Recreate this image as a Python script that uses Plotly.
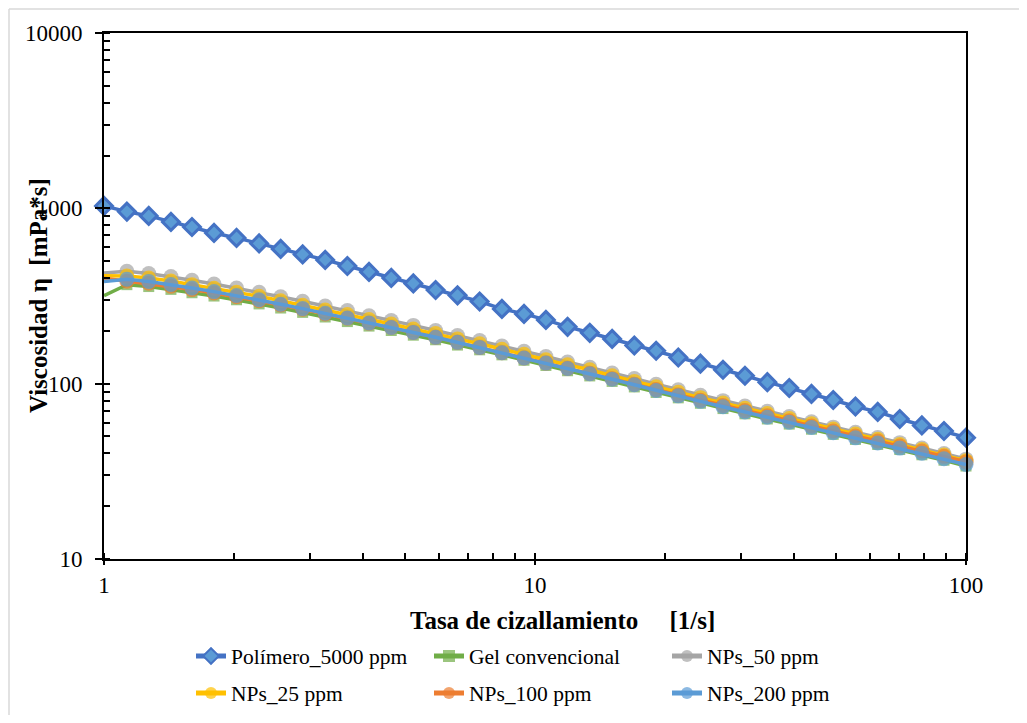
import plotly.graph_objects as go

# Shear rate [1/s]
shear_rate = [1, 1.13, 1.27, 1.43, 1.6, 1.8, 2.03, 2.29, 2.57, 2.89,
              3.26, 3.67, 4.12, 4.64, 5.22, 5.88, 6.61, 7.44, 8.38, 9.43,
              10.6, 11.9, 13.4, 15.1, 17.0, 19.1, 21.5, 24.2, 27.3, 30.7,
              34.6, 38.9, 43.8, 49.2, 55.4, 62.4, 70.2, 79.0, 88.9, 100]

polimero_5000 = [1032, 958, 905, 837, 783, 724, 678, 631, 587, 546,
                 508, 469, 434, 401, 373, 342, 319, 294, 267, 250,
                 231, 211, 195, 180, 165, 154, 141, 130, 120, 111,
                 102, 94.5, 87.4, 80.7, 74.1, 69.0, 62.9, 57.8, 53.7, 49.2]

gel_convencional = [318, 367, 358, 345, 330, 316, 301, 285, 270, 255,
                    240, 226, 213, 201, 189, 178, 166, 156, 146, 136,
                    127, 118.5, 110.7, 103, 95.8, 89.1, 83.0, 77.3, 72.1, 67.3,
                    62.9, 58.8, 55.0, 51.4, 48.1, 45.0, 42.1, 39.3, 36.6, 33.9]

nps_50 = [428, 437, 425, 408, 389, 370, 351, 332, 313, 295,
          277, 261, 244, 229, 215, 201, 188, 176, 164, 153,
          143, 133, 124, 115, 107, 99.3, 92.4, 85.9, 80.0, 74.6,
          69.6, 65.0, 60.6, 56.5, 52.8, 49.3, 46.1, 43.0, 40.0, 37.1]

nps_25 = [413, 411, 400, 385, 367, 350, 332, 315, 297, 280,
          263, 248, 232, 219, 205, 193, 180, 169, 157, 147,
          137, 128, 120, 111, 103, 96.0, 89.4, 83.2, 77.6, 72.4,
          67.6, 63.2, 59.0, 55.1, 51.6, 48.2, 45.0, 42.1, 39.2, 36.3]

nps_100 = [399, 384, 374, 360, 344, 329, 313, 297, 281, 266,
           250, 236, 221, 209, 196, 184, 172, 161, 150, 140,
           131, 122.3, 114.5, 106.8, 99.3, 92.5, 86.3, 80.5, 75.1, 70.2,
           65.6, 61.4, 57.4, 53.7, 50.3, 47.1, 44.1, 41.3, 38.5, 35.8]

nps_200 = [382, 394, 383, 368, 351, 335, 318, 301, 284, 268,
           252, 237, 222, 209, 196, 184, 172, 161, 150, 140,
           131, 122, 114, 106, 98.5, 91.5, 85.2, 79.3, 73.9, 69.0,
           64.4, 60.2, 56.2, 52.5, 49.1, 45.9, 42.9, 40.1, 37.3, 34.6]

y_tick_vals = [10, 100, 1000, 10000]
y_tick_text = ["10", "100", "1000", "10000"]
x_tick_vals = [1, 10, 100]
x_tick_text = ["1", "10", "100"]

FONT = "Liberation Serif"

# page offset of the plot div (default body margin)
OFF = 8
W, H = 1027 - 2 * OFF, 723 - 2 * OFF
# plot area in page pixels
L, R, T, B = 104, 966, 33, 559
PW, PH = R - L, B - T


def px_x(p):
    return (p - L) / PW


def px_y(p):
    return (B - p) / PH


def cx(p):
    return (p - OFF) / W


def cy(p):
    return 1 - (p - OFF) / H


fig = go.Figure()

n = len(shear_rate)
np_size = [0] + [15] * (n - 1)

series = [
    ("Polímero_5000 ppm", polimero_5000, "#4472C4", "#5B9BD5", "diamond", 13, "legend", 3),
    ("Gel convencional", gel_convencional, "#70AD47", "#70AD47", "square", [0] + [11] * (n - 1), "legend", 0),
    ("NPs_50 ppm", nps_50, "#A5A5A5", "#A5A5A5", "circle", np_size, "legend", 0),
    ("NPs_25 ppm", nps_25, "#FFC000", "#FFC000", "circle", np_size, "legend2", 0),
    ("NPs_100 ppm", nps_100, "#ED7D31", "#ED7D31", "circle", np_size, "legend2", 0),
    ("NPs_200 ppm", nps_200, "#5B9BD5", "#5B9BD5", "circle", np_size, "legend2", 0),
]

for name, ys, lc, fc, sym, size, leg, mlw in series:
    fig.add_trace(go.Scatter(
        x=shear_rate, y=ys, name=name, mode="lines+markers",
        line=dict(color=lc, width=3.5),
        marker=dict(symbol=sym, size=size, color=fc,
                    line=dict(color=lc, width=mlw)),
        cliponaxis=False, legend=leg,
    ))

axis_common = dict(
    type="log", showline=True, linecolor="black", linewidth=2, mirror=True,
    showgrid=False, zeroline=False,
    ticks="outside", tickwidth=1.5, tickcolor="black",
    tickfont=dict(family=FONT, size=23, color="black"),
    minor=dict(ticks="inside", ticklen=6, tickwidth=1.5, tickcolor="black",
               dtick="D1", showgrid=False),
    automargin=False,
)

fig.update_xaxes(range=[0, 2], tickvals=x_tick_vals, ticktext=x_tick_text,
                 ticklen=4, ticklabelstandoff=0, **axis_common)
fig.update_yaxes(range=[1, 4], tickvals=y_tick_vals, ticktext=y_tick_text,
                 ticklen=7, ticklabelstandoff=8, **axis_common)

legend_common = dict(
    orientation="h", xanchor="left", yanchor="middle",
    xref="container", yref="container",
    font=dict(family=FONT, size=21.5, color="black"),
    bgcolor="rgba(0,0,0,0)", borderwidth=0,
    entrywidth=193, entrywidthmode="pixels", itemsizing="constant",
)

fig.update_layout(
    width=W, height=H,
    margin=dict(l=L - OFF, r=W - (R - OFF), t=T - OFF, b=H - (B - OFF), autoexpand=False),
    paper_bgcolor="white", plot_bgcolor="white",
    font=dict(family=FONT, color="black"),
    showlegend=True,
    legend=dict(x=cx(191), y=cy(656), **legend_common),
    legend2=dict(x=cx(191), y=cy(693), **legend_common),
    annotations=[
        dict(text="<b>Viscosidad η  [mPa*s]</b>", xref="paper", yref="paper",
             x=px_x(38), y=px_y(296), textangle=-90, showarrow=False,
             xanchor="center", yanchor="middle",
             font=dict(family=FONT, size=25, color="black")),
        dict(text="<b>Tasa de cizallamiento\u00a0\u00a0\u00a0\u00a0 [1/s]</b>", xref="paper", yref="paper",
             x=px_x(562), y=px_y(620), showarrow=False,
             xanchor="center", yanchor="middle",
             font=dict(family=FONT, size=25, color="black")),
    ],
    shapes=[
        dict(type="line", xref="paper", yref="paper",
             x0=px_x(9), x1=px_x(1030), y0=px_y(9), y1=px_y(9),
             line=dict(color="#D9D9D9", width=1.5)),
        dict(type="line", xref="paper", yref="paper",
             x0=px_x(9), x1=px_x(9), y0=px_y(9), y1=px_y(730),
             line=dict(color="#D9D9D9", width=1.5)),
    ],
)

fig.write_html("out.html")
